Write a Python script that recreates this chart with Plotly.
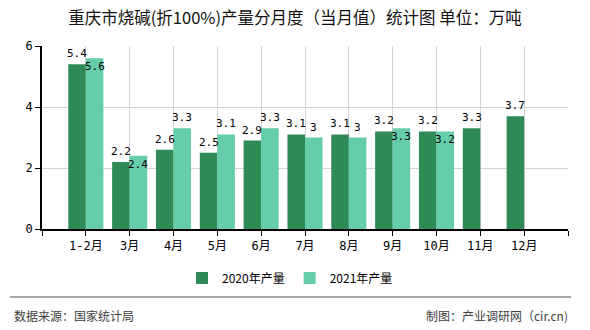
import plotly.graph_objects as go

categories = ["1-2月", "3月", "4月", "5月", "6月", "7月", "8月", "9月", "10月", "11月", "12月"]
values_2020 = [5.4, 2.2, 2.6, 2.5, 2.9, 3.1, 3.1, 3.2, 3.2, 3.3, 3.7]
values_2021 = [5.6, 2.4, 3.3, 3.1, 3.3, 3.0, 3.0, 3.3, 3.2, None, None]
series_names = ["2020年产量", "2021年产量"]
y_ticks = [0, 2, 4, 6]

C2020 = "#2E8B57"
C2021 = "#66CDAA"
CJK = "Noto Sans CJK SC"
MONO = "DejaVu Sans Mono, Noto Sans CJK SC"

xs = list(range(len(categories)))

fig = go.Figure()
fig.add_trace(go.Bar(x=xs, y=values_2020, name=series_names[0], marker=dict(color=C2020, line=dict(width=0))))
fig.add_trace(go.Bar(x=xs, y=values_2021, name=series_names[1], marker=dict(color=C2021, line=dict(width=0))))

def fmt(v):
    return ("%g" % v)

annotations = []
for i, (a, b) in enumerate(zip(values_2020, values_2021)):
    if a is not None:
        annotations.append(dict(x=i - 0.2, y=a, xref="x", yref="y", text=fmt(a), showarrow=False,
                                yanchor="bottom", yshift=2, font=dict(family=MONO, size=11, color="#000")))
    if b is not None:
        below = a is not None and 0 <= (b - a) < 0.3
        annotations.append(dict(x=i + 0.2, y=b, xref="x", yref="y", text=fmt(b), showarrow=False,
                                yanchor="top" if below else "bottom", yshift=0 if below else 2,
                                font=dict(family=MONO, size=11, color="#000")))

# footer
annotations.append(dict(x=-0.057, y=-0.47, xref="paper", yref="paper", text="数据来源：国家统计局",
                        showarrow=False, xanchor="left", yanchor="middle",
                        font=dict(family=CJK, size=12, color="#404040")))
annotations.append(dict(x=1.0038, y=-0.47, xref="paper", yref="paper", text="制图：产业调研网（cir.cn)",
                        showarrow=False, xanchor="right", yanchor="middle",
                        font=dict(family=CJK, size=12, color="#404040")))

shapes = [dict(type="line", xref="paper", yref="paper", x0=-0.0608, x1=1.0057, y0=-0.3716, y1=-0.3716,
               line=dict(color="#888888", width=1.5))]

tickvals = [-1] + xs + [len(categories)]
ticktext = [""] + categories + [""]

fig.update_layout(
    width=590, height=330,
    margin=dict(l=42, r=22, t=46, b=101),
    paper_bgcolor="white", plot_bgcolor="white",
    barmode="group", bargap=0.2, bargroupgap=0,
    title=dict(text="重庆市烧碱(折100%)产量分月度（当月值）统计图 单位：万吨", x=0.5, xref="container",
               y=1 - 18 / 330, yanchor="middle", xanchor="center",
               font=dict(family=CJK, size=16.5, color="#111")),
    legend=dict(orientation="h", x=0.4715, xanchor="center", y=-0.268, yanchor="middle",
                font=dict(family=CJK, size=12, color="#000"), bgcolor="rgba(0,0,0,0)"),
    annotations=annotations,
    shapes=shapes,
    showlegend=True,
)
fig.update_xaxes(range=[-1, len(categories)], tickmode="array", tickvals=tickvals, ticktext=ticktext,
                 showgrid=True, gridcolor="#D3D3D3", gridwidth=1,
                 showline=True, linecolor="#000", linewidth=1.5,
                 ticks="outside", ticklen=5, tickcolor="#000",
                 tickfont=dict(family=MONO, size=12, color="#000"), zeroline=False, fixedrange=True)
fig.update_yaxes(range=[0, 6], tickmode="array", tickvals=y_ticks,
                 showgrid=True, gridcolor="#D3D3D3", gridwidth=1,
                 showline=True, linecolor="#000", linewidth=1.5,
                 ticks="outside", ticklen=5, tickcolor="#000",
                 tickfont=dict(family=MONO, size=12, color="#000"), zeroline=False, fixedrange=True)

fig.write_html("out.html", config={"displayModeBar": False})
